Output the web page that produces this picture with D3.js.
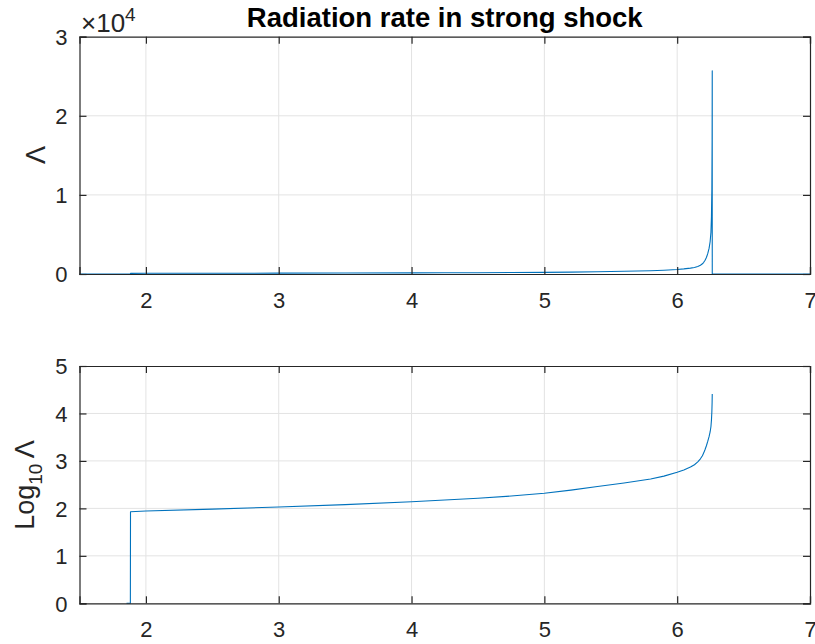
<!DOCTYPE html>
<html><head><meta charset="utf-8">
<script src="https://cdn.jsdelivr.net/npm/d3@7"></script>
<style>
html,body{margin:0;padding:0;background:#fff;}
svg{display:block;font-family:"Liberation Sans",Arial,Helvetica,sans-serif;}
</style></head>
<body>
<script>
// x positions and log10(Lambda) values (null => Lambda = 0)
const xValues   = [1.5, 1.854, 1.883, 1.884, 2.0, 2.5, 3.0, 3.5, 4.0, 4.25, 4.5, 4.75, 5.0, 5.2, 5.4, 5.6, 5.8, 5.9, 6.0, 6.05, 6.1, 6.13, 6.155, 6.175, 6.19, 6.2, 6.21, 6.22, 6.23, 6.24, 6.248, 6.254, 6.258, 6.261, 6.263, 6.264, 6.2641, 6.27, 7.0];
const logLambda = [null, 0, 0, 1.93, 1.945, 1.985, 2.03, 2.08, 2.14, 2.175, 2.215, 2.26, 2.32, 2.385, 2.46, 2.535, 2.62, 2.68, 2.76, 2.81, 2.87, 2.92, 2.98, 3.045, 3.11, 3.17, 3.24, 3.32, 3.41, 3.51, 3.61, 3.72, 3.86, 4.03, 4.23, 4.41, null, null, null];
const xTicks = [2, 3, 4, 5, 6, 7];
const yTicksTop = [0, 1, 2, 3];      // in units of 10^4
const yTicksBottom = [0, 1, 2, 3, 4, 5];
const title = "Radiation rate in strong shock";

const W = 815, H = 644;
const svg = d3.select("body").append("svg").attr("width", W).attr("height", H);

const left = 79.5, right = 810;
const x = d3.scaleLinear().domain([1.5, 7]).range([left, right]);

const axisColor = "#262626", gridColor = "#e3e3e3", lineColor = "#0072BD";
const tickFont = 22;

function panel(top, bottom, yDomain, yTicks, data, yAcc, defined) {
  const y = d3.scaleLinear().domain(yDomain).range([bottom, top]);
  const g = svg.append("g");
  g.selectAll(".vg").data(xTicks.filter(t => t < 7)).enter().append("line")
    .attr("x1", d => x(d)).attr("x2", d => x(d)).attr("y1", top).attr("y2", bottom)
    .attr("stroke", gridColor).attr("stroke-width", 1);
  g.selectAll(".hg").data(yTicks.filter(t => t > yDomain[0] && t < yDomain[1])).enter().append("line")
    .attr("y1", d => y(d)).attr("y2", d => y(d)).attr("x1", left).attr("x2", right)
    .attr("stroke", gridColor).attr("stroke-width", 1);
  const line = d3.line().defined(defined).x(d => x(d.x)).y(d => y(yAcc(d)));
  g.append("path").datum(data).attr("d", line).attr("fill", "none")
    .attr("stroke", lineColor).attr("stroke-width", 1.1).attr("stroke-linejoin", "round");
  const tl = 7;
  const ax = d3.axisBottom(x).tickValues(xTicks).tickSize(-tl).tickPadding(13).tickFormat(d3.format("d"));
  const axT = d3.axisTop(x).tickValues(xTicks).tickSize(-tl).tickFormat("");
  const ayL = d3.axisLeft(y).tickValues(yTicks).tickSize(-tl).tickPadding(12).tickFormat(d3.format("d"));
  const ayR = d3.axisRight(y).tickValues(yTicks).tickSize(-tl).tickFormat("");
  const style = sel => {
    sel.select(".domain").attr("stroke", axisColor).attr("stroke-width", 1.2);
    sel.selectAll(".tick line").attr("stroke", axisColor).attr("stroke-width", 1.2);
    sel.selectAll(".tick text").attr("fill", axisColor).style("font-size", tickFont + "px")
      .style("font-family", '"Liberation Sans",Arial,sans-serif');
  };
  g.append("g").attr("transform", `translate(0,${bottom})`).call(ax).call(style)
    .selectAll(".tick text").attr("dy", "0.95em");
  g.append("g").attr("transform", `translate(0,${top})`).call(axT).call(style);
  g.append("g").attr("transform", `translate(${left},0)`).call(ayL).call(style)
    .selectAll(".tick text").attr("dy", "0.36em");
  g.append("g").attr("transform", `translate(${right},0)`).call(ayR).call(style);
  return y;
}

const data = xValues.map((v, i) => ({x: v, l: logLambda[i]}));

panel(36.7, 274, [0, 3], yTicksTop, data,
  d => d.l === null ? 0 : Math.pow(10, d.l) / 1e4, d => true);
panel(366, 603.3, [0, 5], yTicksBottom, data,
  d => d.l, d => d.l !== null);

svg.append("text").attr("x", (left + right) / 2).attr("y", 27).attr("text-anchor", "middle")
  .style("font-size", "27.5px").style("font-weight", "bold").attr("fill", "#000").text(title);

const ex = svg.append("text").attr("x", 81).attr("y", 32).attr("fill", axisColor)
  .attr("font-size", 26).style("font-size", "26px");
ex.append("tspan").attr("font-size", 26).style("font-size", "26px").text("\u00d710");
ex.append("tspan").attr("dy", -11).attr("font-size", 19).style("font-size", "19px").text("4");

svg.append("text").attr("transform", "translate(45,155) rotate(-90)").attr("text-anchor", "middle")
  .attr("fill", axisColor).style("font-size", "27px").text("\u039b");
const yl = svg.append("text").attr("transform", "translate(34,485) rotate(-90)").attr("text-anchor", "middle")
  .attr("fill", axisColor).style("font-size", "27px");
yl.append("tspan").text("Log");
yl.append("tspan").attr("dy", 8).style("font-size", "19px").text("10");
yl.append("tspan").attr("dy", -8).text("\u2009\u039b");
</script>
</body></html>
